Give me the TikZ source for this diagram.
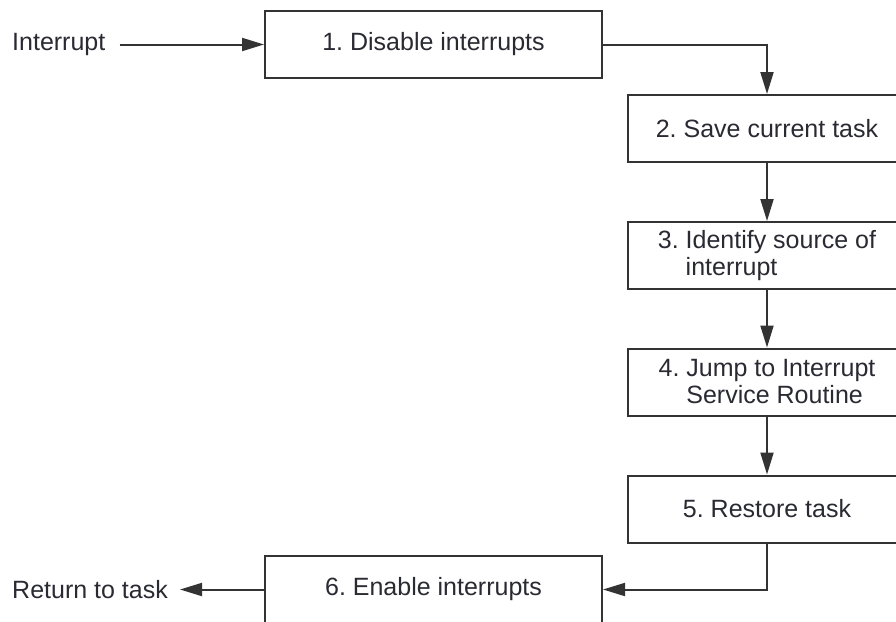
\documentclass[tikz,border=0pt]{standalone}
\usepackage{fontspec}
\setmainfont{Liberation Sans}
\usetikzlibrary{arrows.meta}
\frenchspacing
\definecolor{linecol}{HTML}{333333}
\definecolor{txtcol}{HTML}{2A2A33}
\begin{document}
\begin{tikzpicture}[x=1pt,y=-1pt,
  every node/.style={font=\fontsize{25}{27}\selectfont\frenchspacing, text=txtcol},
  stepbox/.style={draw=linecol, line width=2pt, inner sep=0pt, minimum height=67pt, fill=white},
  widebox/.style={stepbox, minimum width=337pt},
  narrowbox/.style={stepbox, minimum width=278pt},
  lbl/.style={anchor=west, inner sep=0pt},
  conn/.style={draw=linecol, line width=2pt, -{Triangle[length=22pt,width=13pt]}}
]
\useasboundingbox (0,0) rectangle (896,621);
\clip (0,0) rectangle (896,621);
\fill[white] (0,0) rectangle (896,621);

\node[widebox]  (b1) at (433.5,44.5) {1. Disable interrupts};
\node[narrowbox] (b2) at (767,128.5) {2. Save current task};
\node[narrowbox, align=left] (b3) at (767,255.5) {3. Identify source of\\\hphantom{3. }interrupt};
\node[narrowbox, align=left] (b4) at (767,382) {4. Jump to Interrupt\\\hphantom{4. }Service Routine};
\node[narrowbox] (b5) at (767,509) {5. Restore task};
\node[widebox]  (b6) at (433.5,589.5) {6. Enable interrupts};

\node[lbl] (in) at (12,44.5) {Interrupt};
\node[lbl] (ret) at (12,589.5) {Return to task};

\draw[conn] ([xshift=14pt]in.east) -- (b1.west);
\draw[conn] (b1.east) -| (b2.north);
\draw[conn] (b2.south) -- (b3.north);
\draw[conn] (b3.south) -- (b4.north);
\draw[conn] (b4.south) -- (b5.north);
\draw[conn] (b5.south) |- (b6.east);
\draw[conn] (b6.west) -- ([xshift=12pt]ret.east);
\end{tikzpicture}
\end{document}
